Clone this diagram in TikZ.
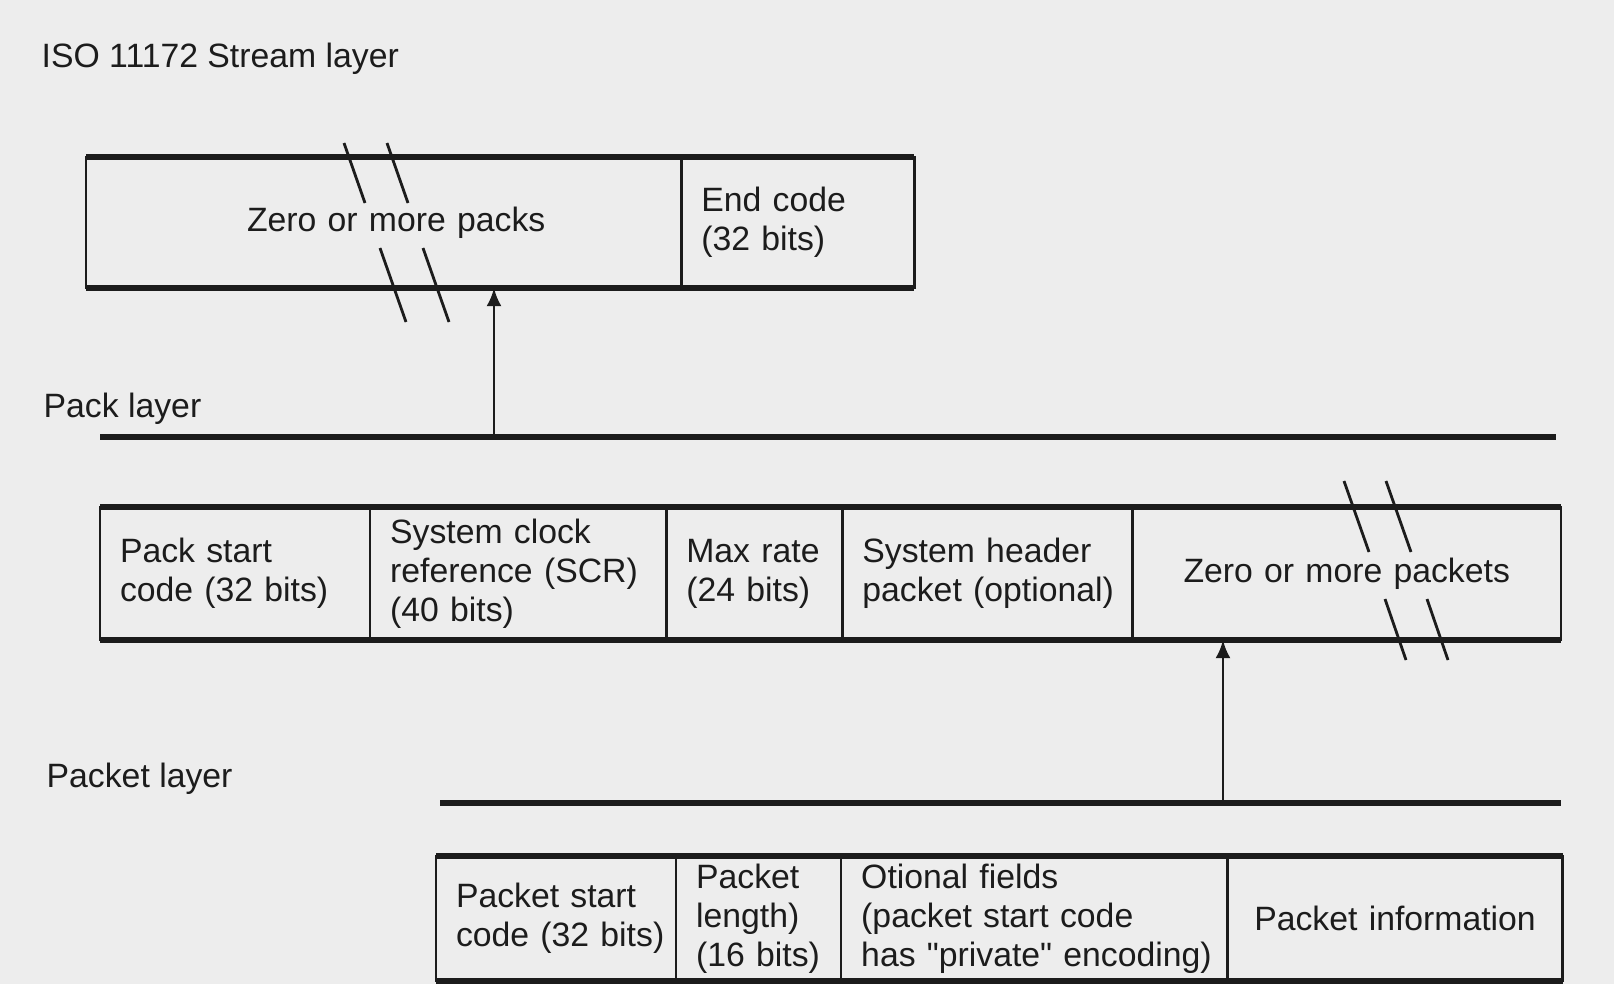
\documentclass[tikz,border=0pt]{standalone}
\usepackage{fontspec}
\setmainfont{Liberation Sans}
\newfontfamily\plainquote{Liberation Sans}
\usepackage{xcolor}
\usepackage{tikz}
\usetikzlibrary{arrows.meta,positioning,calc}
\definecolor{mPaper}{RGB}{237,237,237}
\definecolor{mInk}{RGB}{28,28,28}
\newcommand{\cellfont}{\fontsize{9.6}{11.1}\selectfont\hyphenpenalty=10000\exhyphenpenalty=10000\relax}
\newcommand{\dq}{{\plainquote"}}
\tikzset{
cell/.style={rectangle,draw=mInk,line width=.7pt,text=mInk,inner xsep=.2cm,inner ysep=0pt,outer sep=0pt,align=left,font=\cellfont},
streamcell/.style={cell,minimum height=1.31cm},
packcell/.style={cell,minimum height=1.33cm},
packetcell/.style={cell,minimum height=1.25cm},
thickrule/.style={draw=mInk,line width=1.6pt},
layerline/.style={draw=mInk,line width=1.6pt},
breakmark/.style={draw=mInk,line width=.8pt},
layerlabel/.style={anchor=base west,inner sep=0pt,text=mInk,font=\cellfont},
uparrow/.style={-{Latex[length=1.8mm,width=1.5mm]},draw=mInk,line width=.8pt}
}

\begin{document}
\begin{tikzpicture}[x=0.01cm,y=-0.01cm]
\useasboundingbox (0,0) rectangle (1614,984);
\fill[mPaper] (0,0) rectangle (1614,984);
% stream layer
\node[layerlabel] (streamlabel) at (41,67) {ISO 11172 Stream layer};
\node[streamcell,anchor=north west,minimum width=5.95cm,text width=5.55cm,align=center] (packs) at (86,157) {\hspace*{.25cm}Zero or more packs};
\node[streamcell,right=0pt of packs,minimum width=2.33cm,text width=1.93cm] (endcode) {End code\\(32~bits)};
\draw[thickrule] (packs.north west) -- (endcode.north east);
\draw[thickrule] (packs.south west) -- (endcode.south east);
\draw[breakmark] (344,143) -- (365,203);
\draw[breakmark] (387,143) -- (408,203);
\draw[breakmark] (380,248) -- (406,322);
\draw[breakmark] (423,248) -- (449,322);
% pack layer
\node[layerlabel] (packlabel) at (43,417) {Pack layer};
\coordinate (packL) at (100,437);
\coordinate (packR) at (1556,437);
\coordinate (packtail) at (494,437);
\draw[layerline] (packL) -- (packR);
\draw[uparrow] (packtail) -- (packtail |- packs.south);
\node[packcell,anchor=north west,minimum width=2.70cm,text width=2.30cm] (packstart) at (100,507) {Pack start\\code~(32~bits)};
\node[packcell,right=0pt of packstart,minimum width=2.96cm,text width=2.56cm] (scr) {System clock\\reference~(SCR)\\(40~bits)};
\node[packcell,right=0pt of scr,minimum width=1.76cm,text width=1.36cm] (maxrate) {Max rate\\(24~bits)};
\node[packcell,right=0pt of maxrate,minimum width=2.90cm,text width=2.50cm] (sysheader) {System header\\packet~(optional)};
\node[packcell,right=0pt of sysheader,minimum width=4.28cm,text width=3.88cm,align=center] (packets) {Zero or more packets};
\draw[thickrule] (packstart.north west) -- (packets.north east);
\draw[thickrule] (packstart.south west) -- (packets.south east);
\draw[breakmark] (1344,481) -- (1369,552);
\draw[breakmark] (1386,481) -- (1411,552);
\draw[breakmark] (1385,599) -- (1406,660);
\draw[breakmark] (1427,599) -- (1448,660);
% packet layer
\node[layerlabel] (packetlabel) at (46,787) {Packet layer};
\coordinate (packetL) at (440,803);
\coordinate (packetR) at (1561,803);
\coordinate (packettail) at (1223,803);
\draw[layerline] (packetL) -- (packetR);
\draw[uparrow] (packettail) -- (packettail |- packets.south);
\node[packetcell,anchor=north west,minimum width=2.40cm,text width=2.00cm] (packetstart) at (436,856) {Packet start\\code~(32~bits)};
\node[packetcell,right=0pt of packetstart,minimum width=1.65cm,text width=1.25cm] (packetlength) {Packet\\length)\\(16~bits)};
\node[packetcell,right=0pt of packetlength,minimum width=3.86cm,text width=3.46cm] (optfields) {Otional fields\\(packet~start~code\\has~\dq private\dq~encoding)};
\node[packetcell,right=0pt of optfields,minimum width=3.35cm,text width=2.95cm,align=center] (packetinfo) {Packet information};
\draw[thickrule] (packetstart.north west) -- (packetinfo.north east);
\draw[thickrule] (packetstart.south west) -- (packetinfo.south east);
\end{tikzpicture}
\end{document}
